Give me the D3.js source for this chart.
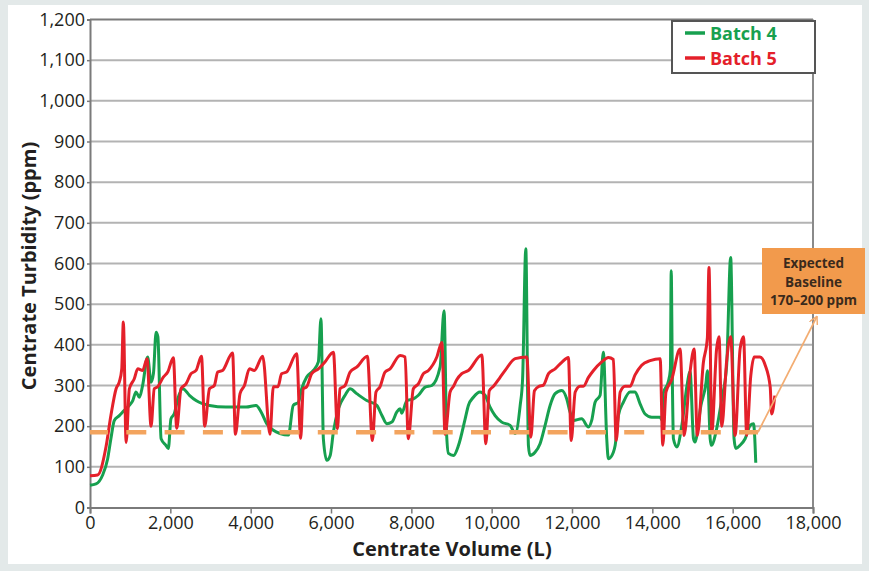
<!DOCTYPE html>
<html><head><meta charset="utf-8">
<script src="https://cdn.jsdelivr.net/npm/d3@7"></script>
<style>
html,body{margin:0;padding:0;background:#e3e9e9;}
svg{display:block;font-family:"Open Sans",sans-serif;}
</style></head>
<body>
<svg id="chart" width="869" height="571"></svg>
<script>
// ---- Data ----
const xTicks = [0,2000,4000,6000,8000,10000,12000,14000,16000,18000];
const yTicks = [0,100,200,300,400,500,600,700,800,900,1000,1100,1200];
const seriesNames = ["Batch 4","Batch 5"];
const batch4 = [[0,55],[150,58],[315,80],[440,120],[520,169],[605,214],[730,226],[855,239],[980,251],[1065,263],[1145,284],[1230,271],[1310,300],[1435,370],[1520,308],[1580,330],[1645,431],[1690,420],[1770,169],[1890,153],[1950,145],[2015,218],[2100,231],[2185,267],[2310,292],[2475,276],[2640,263],[2975,251],[3385,247],[3885,247],[4135,251],[4260,235],[4400,206],[4565,190],[4730,182],[4940,178],[5060,251],[5190,259],[5270,292],[5395,321],[5560,337],[5685,358],[5750,464],[5810,169],[5895,116],[5980,128],[6060,186],[6185,243],[6350,276],[6475,292],[6640,280],[6890,263],[7140,251],[7265,227],[7390,206],[7515,210],[7640,235],[7720,243],[7760,232],[7890,263],[8050,267],[8175,276],[8345,296],[8510,300],[8715,345],[8815,484],[8880,177],[8925,133],[9050,128],[9175,153],[9340,218],[9420,251],[9545,271],[9710,284],[9835,276],[9960,247],[10085,226],[10250,210],[10460,202],[10585,182],[10710,251],[10770,316],[10850,636],[10915,153],[10955,128],[11080,136],[11205,157],[11330,202],[11455,251],[11580,280],[11745,288],[11870,267],[11950,235],[12035,214],[12240,218],[12410,198],[12490,214],[12575,259],[12700,276],[12780,382],[12865,169],[12905,120],[13030,136],[13075,153],[13155,226],[13280,259],[13445,284],[13570,284],[13695,255],[13820,230],[13985,222],[14195,222],[14240,215],[14270,280],[14400,310],[14450,340],[14470,582],[14500,300],[14525,169],[14610,149],[14735,202],[14860,298],[14940,334],[15025,169],[15060,161],[15210,251],[15335,306],[15370,336],[15440,169],[15470,153],[15600,193],[15730,267],[15850,349],[15950,615],[16035,169],[16080,145],[16185,153],[16310,169],[16435,202],[16520,206],[16545,180],[16575,110]];
const batch5 = [[0,78],[190,80],[400,150],[520,226],[650,292],[730,309],[790,340],[830,456],[900,160],[980,292],[1100,316],[1190,341],[1310,337],[1420,366],[1520,200],[1600,292],[1685,297],[1830,321],[1935,333],[2075,368],[2160,195],[2265,292],[2390,304],[2515,329],[2640,337],[2775,372],[2855,200],[2975,292],[3095,300],[3180,333],[3300,337],[3550,380],[3620,180],[3735,280],[3845,300],[3970,341],[4090,337],[4300,372],[4480,180],[4565,297],[4680,297],[4770,329],[4895,333],[5145,378],[5245,170],[5310,292],[5395,297],[5520,329],[5685,341],[5850,358],[6060,382],[6160,194],[6225,292],[6350,300],[6475,333],[6640,345],[6905,372],[7030,165],[7120,284],[7220,297],[7345,333],[7470,341],[7720,374],[7845,370],[7925,169],[8050,292],[8175,304],[8300,329],[8425,337],[8635,370],[8760,406],[8840,180],[8965,284],[9050,298],[9130,314],[9255,329],[9420,337],[9755,375],[9855,157],[9940,287],[10045,298],[10210,320],[10335,337],[10585,366],[10875,370],[10975,173],[11065,287],[11180,298],[11290,301],[11415,329],[11580,341],[11745,357],[11910,369],[11980,165],[12080,284],[12200,298],[12285,298],[12410,320],[12535,337],[12740,358],[12905,369],[13030,364],[13100,165],[13200,284],[13320,298],[13445,298],[13570,326],[13735,350],[13945,361],[14195,366],[14260,153],[14340,284],[14480,314],[14690,390],[14790,177],[14940,334],[15040,390],[15120,177],[15270,356],[15370,417],[15410,590],[15480,186],[15600,390],[15660,420],[15730,200],[15850,360],[15950,420],[16060,177],[16185,390],[16270,420],[16350,177],[16450,323],[16535,370],[16680,370],[16810,350],[16935,296],[16970,230],[17050,275]];
const baselineValue = 185;
const baselineRange = [0, 16630];
const arrowFrom = [16630, 185];
const arrowTo = [18100, 470];
const annotationLines = ["Expected","Baseline","170–200 ppm"];

// ---- Layout ----
const svg = d3.select("#chart");
const x = d3.scaleLinear().domain([0,18000]).range([90,813]);
const y = d3.scaleLinear().domain([0,1200]).range([507.5,19.5]);
const green = "#17a04f", red = "#e4202a", orange = "#f29a4c";

svg.append("rect").attr("x",8).attr("y",5).attr("width",854).attr("height",559).attr("fill","#fff");

// grid
svg.append("g").selectAll("line").data(yTicks.filter(d=>d>0)).join("line")
  .attr("x1",x(0)).attr("x2",x(18000)).attr("y1",d=>y(d)).attr("y2",d=>y(d))
  .attr("stroke",d=>d===1200?"#7a7a7a":"#b3b3b3").attr("stroke-width",2);
// right border
svg.append("line").attr("x1",x(18000)).attr("x2",x(18000)).attr("y1",y(1200)).attr("y2",y(0))
  .attr("stroke","#8a8a8a").attr("stroke-width",2);

// axes
const xAxis = d3.axisBottom(x).tickValues(xTicks).tickSize(6).tickPadding(3).tickFormat(d3.format(","));
const gx = svg.append("g").attr("transform",`translate(0,${y(0)})`).call(xAxis);
gx.select(".domain").attr("stroke","#7a7a7a").attr("stroke-width",2);
gx.selectAll(".tick line").attr("stroke","#7a7a7a").attr("stroke-width",1.5);
gx.selectAll("text").attr("font-size",18).attr("fill","#231f20").attr("font-family","Open Sans");

const yAxis = d3.axisLeft(y).tickValues(yTicks).tickSize(3).tickPadding(2).tickFormat(d3.format(","));
const gy = svg.append("g").attr("transform",`translate(${x(0)},0)`).call(yAxis);
gy.select(".domain").attr("stroke","#7a7a7a").attr("stroke-width",2);
gy.selectAll(".tick line").attr("stroke","#7a7a7a").attr("stroke-width",1.5);
gy.selectAll("text").attr("font-size",18).attr("fill","#231f20").attr("font-family","Open Sans");

// titles
svg.append("text").attr("x",452).attr("y",556).attr("text-anchor","middle")
  .attr("font-size",20).attr("font-weight",700).attr("fill","#231f20").text("Centrate Volume (L)");
svg.append("text").attr("transform","translate(36,266) rotate(-90)").attr("text-anchor","middle")
  .attr("font-size",20).attr("font-weight",700).attr("fill","#231f20").text("Centrate Turbidity (ppm)");

// lines
const line = d3.line().x(d=>x(d[0])).y(d=>y(d[1])).curve(d3.curveMonotoneX);
svg.append("path").datum(batch4).attr("d",line).attr("fill","none").attr("stroke",green)
  .attr("stroke-width",3).attr("stroke-linejoin","round");
svg.append("path").datum(batch5).attr("d",line).attr("fill","none").attr("stroke",red)
  .attr("stroke-width",3).attr("stroke-linejoin","round");

// baseline dashes
svg.append("line").attr("x1",x(baselineRange[0])).attr("x2",x(baselineRange[1]))
  .attr("y1",y(baselineValue)).attr("y2",y(baselineValue))
  .attr("stroke","#f3a45e").attr("stroke-width",4.5).attr("stroke-dasharray","20,18.3").attr("stroke-dashoffset",2);

// arrow
const defs = svg.append("defs");
defs.append("marker").attr("id","ah").attr("viewBox","0 0 10 10").attr("refX",9).attr("refY",5)
  .attr("markerWidth",9).attr("markerHeight",9).attr("markerUnits","userSpaceOnUse").attr("orient","auto")
  .append("path").attr("d","M0,0 L9,5 L0,10").attr("fill","none").attr("stroke","#f3ad72").attr("stroke-width",1.6);
svg.append("line").attr("x1",x(arrowFrom[0])).attr("y1",y(arrowFrom[1]))
  .attr("x2",x(arrowTo[0])).attr("y2",y(arrowTo[1]))
  .attr("stroke","#f3ad72").attr("stroke-width",1.8).attr("marker-end","url(#ah)");

// annotation box
svg.append("rect").attr("x",762).attr("y",248).attr("width",103).attr("height",66).attr("fill",orange);
svg.append("g").selectAll("text").data(annotationLines).join("text")
  .attr("x",813.5).attr("y",(d,i)=>268+i*18.5).attr("text-anchor","middle")
  .attr("font-size",13.5).attr("font-weight",700).attr("fill","#3b2a1c").text(d=>d);

// legend
const lg = svg.append("g");
lg.append("rect").attr("x",672).attr("y",21).attr("width",143).attr("height",52)
  .attr("fill","#fff").attr("stroke","#555").attr("stroke-width",2);
[[green,33],[red,58]].forEach((c,i)=>{
  lg.append("line").attr("x1",685).attr("x2",705).attr("y1",c[1]).attr("y2",c[1])
    .attr("stroke",c[0]).attr("stroke-width",3.5);
  lg.append("text").attr("x",710).attr("y",c[1]+6.5).attr("font-size",18).attr("font-weight",700)
    .attr("fill",c[0]).text(seriesNames[i]);
});
</script>
</body></html>
